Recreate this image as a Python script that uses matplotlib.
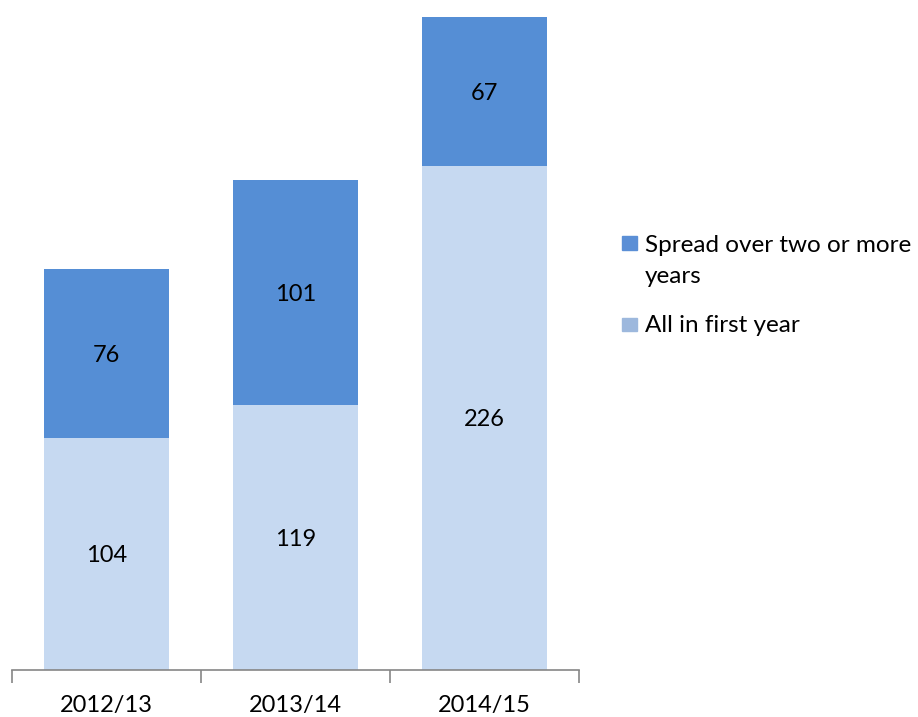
import matplotlib.pyplot as plt
import numpy as np
from matplotlib.patches import Rectangle

plt.rcParams['font.family'] = ['Lato', 'DejaVu Sans']

years = ['2012/13', '2013/14', '2014/15']
first_year = [104, 119, 226]
spread = [76, 101, 67]

dark = '#558ED5'
light = '#C6D9F1'

W, H = 918, 717
fig = plt.figure(figsize=(W/100, H/100), dpi=100)
ax = fig.add_axes([12/W, 1 - 670/H, (579 - 12)/W, (670 - 17)/H])

x = np.arange(len(years))
bw = 0.66
b1 = ax.bar(x, first_year, bw, color=light)
b2 = ax.bar(x, spread, bw, bottom=first_year, color=dark)

# value labels, baseline dropped so the digits sit centred in each block
for bars, vals, bottoms in [(b1, first_year, [0]*3), (b2, spread, first_year)]:
    for rect, v, b in zip(bars, vals, bottoms):
        ax.annotate(str(v), (rect.get_x() + rect.get_width()/2, b + v/2),
                    xytext=(0, -6), textcoords='offset points',
                    ha='center', va='baseline', fontsize=17, color='black')

ax.set_xlim(-0.5, 2.5)
ax.set_ylim(0, max(a + b for a, b in zip(first_year, spread)))
for s in ['top', 'right', 'left']:
    ax.spines[s].set_visible(False)
ax.spines['bottom'].set_color('#868686')
ax.spines['bottom'].set_linewidth(1.2)
ax.set_yticks([])
ax.set_xticks([-0.5, 0.5, 1.5, 2.5])
ax.set_xticklabels([])
ax.set_xticks(x, minor=True)
ax.set_xticklabels(years, minor=True, fontsize=17)
ax.tick_params(axis='x', which='major', length=9, color='#868686', width=1.2, direction='out')
ax.tick_params(axis='x', which='minor', length=0, pad=18)

# legend drawn by hand: Excel puts the swatch next to the first line only
def fpx(px, py):
    return px / W, 1 - py / H

for (sx, sy), col in [((622, 250), '#5B8FD6'), ((622, 331), '#9DB8DD')]:
    fx, fy = fpx(sx, sy)
    fig.add_artist(Rectangle((fx, fy), 15/W, 13.5/H, color=col, transform=fig.transFigure))

for txt, by in [('Spread over two or more', 252), ('years', 283), ('All in first year', 332)]:
    fx, fy = fpx(645, by)
    fig.text(fx, fy, txt, fontsize=17.5, ha='left', va='baseline')

fig.savefig('out.png', dpi=100)
